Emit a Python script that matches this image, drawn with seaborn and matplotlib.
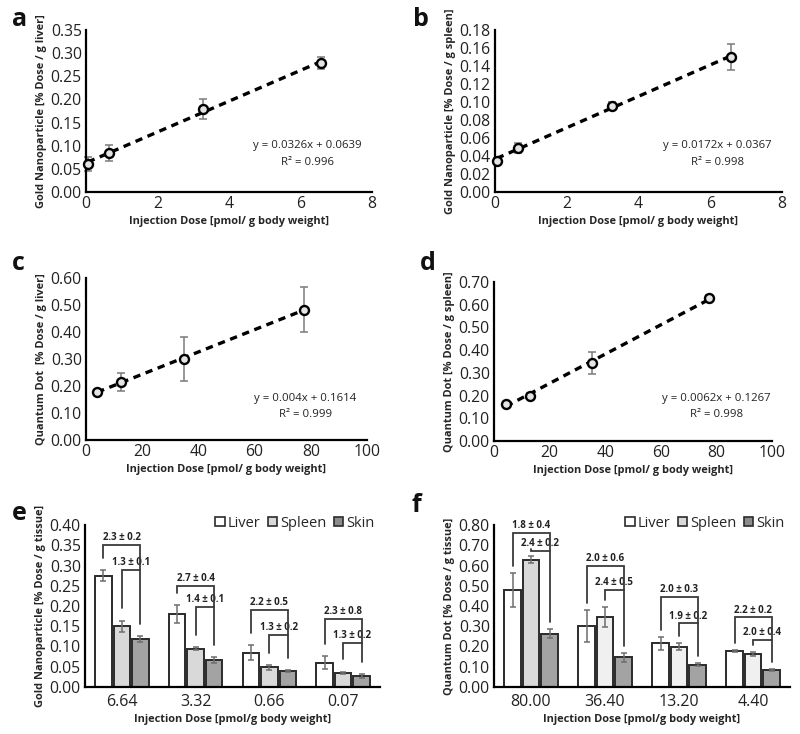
import numpy as np
import pandas as pd
import matplotlib
matplotlib.use("Agg")
import matplotlib.pyplot as plt
import seaborn as sns
from matplotlib.patches import Patch

# ---------------------------------------------------------------
# Data
# ---------------------------------------------------------------
gold_x = [0.05, 0.64, 3.27, 6.58]
gold_liver_y = [0.060, 0.085, 0.180, 0.278]
gold_liver_err = [0.015, 0.017, 0.022, 0.013]
gold_spleen_y = [0.035, 0.049, 0.096, 0.150]
gold_spleen_err = [0.003, 0.006, 0.004, 0.015]

qd_x = [4.0, 12.5, 35.0, 77.5]
qd_liver_y = [0.178, 0.215, 0.300, 0.483]
qd_liver_err = [0.004, 0.033, 0.080, 0.083]
qd_spleen_x = [4.3, 12.8, 35.3, 77.5]
qd_spleen_y = [0.163, 0.200, 0.345, 0.628]
qd_spleen_err = [0.007, 0.010, 0.048, 0.016]

tissues = ["Liver", "Spleen", "Skin"]

gold_doses = ["6.64", "3.32", "0.66", "0.07"]
gold_bars = {
    "Liver": [0.275, 0.180, 0.085, 0.060],
    "Spleen": [0.150, 0.095, 0.049, 0.035],
    "Skin": [0.118, 0.066, 0.039, 0.027],
}
gold_bar_err = {
    "Liver": [0.013, 0.022, 0.018, 0.016],
    "Spleen": [0.014, 0.004, 0.006, 0.003],
    "Skin": [0.008, 0.007, 0.003, 0.005],
}
gold_ratio_outer = ["2.3 ± 0.2", "2.7 ± 0.4", "2.2 ± 0.5", "2.3 ± 0.8"]
gold_ratio_inner = ["1.3 ± 0.1", "1.4 ± 0.1", "1.3 ± 0.2", "1.3 ± 0.2"]

qd_doses = ["80.00", "36.40", "13.20", "4.40"]
qd_bars = {
    "Liver": [0.480, 0.300, 0.215, 0.178],
    "Spleen": [0.628, 0.345, 0.200, 0.163],
    "Skin": [0.263, 0.147, 0.110, 0.083],
}
qd_bar_err = {
    "Liver": [0.083, 0.080, 0.033, 0.003],
    "Spleen": [0.018, 0.048, 0.015, 0.010],
    "Skin": [0.022, 0.022, 0.008, 0.006],
}
qd_ratio_outer = ["1.8 ± 0.4", "2.0 ± 0.6", "2.0 ± 0.3", "2.2 ± 0.2"]
qd_ratio_inner = ["2.4 ± 0.2", "2.4 ± 0.5", "1.9 ± 0.2", "2.0 ± 0.4"]

# bracket heights (annotation levels)
gold_outer_top = [0.350, 0.249, 0.190, 0.169]
gold_inner_top = [0.289, 0.198, 0.128, 0.108]
qd_outer_top = [0.760, 0.598, 0.446, 0.344]
qd_inner_top = [0.672, 0.479, 0.314, 0.232]

# ---------------------------------------------------------------
# Style
# ---------------------------------------------------------------
sns.set_theme(style="white")
plt.rcParams["font.family"] = ["Open Sans", "DejaVu Sans"]

W, H = 800, 734
fig = plt.figure(figsize=(8, 7.34), dpi=100)


def make_ax(left, top, right, bottom):
    return fig.add_axes([left / W, 1 - bottom / H, (right - left) / W, (bottom - top) / H])


def style_ax(ax, ylim, ystep, yfmt, xlabel, ylabel):
    ax.set_ylim(*ylim)
    ax.set_yticks(np.arange(ylim[0], ylim[1] + ystep / 2, ystep))
    ax.yaxis.set_major_formatter(matplotlib.ticker.FormatStrFormatter(yfmt))
    ax.tick_params(length=0, labelsize=11.3, colors="#222222", pad=3)
    for s in ["top", "right"]:
        ax.spines[s].set_visible(False)
    for s in ["left", "bottom"]:
        ax.spines[s].set_color("black")
        ax.spines[s].set_linewidth(1.6)
    ax.set_xlabel(xlabel, fontsize=7.9, fontweight="bold", labelpad=3)
    ax.set_ylabel(ylabel, fontsize=7.9, fontweight="bold", labelpad=3)
    ax.grid(False)


def scatter_panel(ax, x, y, err, xlim, xstep, ylim, ystep, ylabel, eq, r2, txt_pos):
    df = pd.DataFrame({"x": x, "y": y})
    ax.errorbar(x, y, yerr=err, fmt="none", ecolor="#7a7a7a", elinewidth=1.1,
                capsize=3, capthick=1.1, zorder=2, clip_on=False)
    sns.regplot(data=df, x="x", y="y", ax=ax, ci=None, scatter=False,
                line_kws={"color": "black", "lw": 2.4, "dashes": (2.2, 1.7), "zorder": 3})
    sns.scatterplot(data=df, x="x", y="y", ax=ax, s=42, color="#e4e4e4",
                    edgecolor="black", linewidth=1.7, zorder=4, legend=False,
                    clip_on=False)
    ax.set_xlim(*xlim)
    ax.set_xticks(np.arange(xlim[0], xlim[1] + xstep / 2, xstep))
    style_ax(ax, ylim, ystep, "%.2f", "Injection Dose [pmol/ g body weight]", ylabel)
    ax.text(txt_pos[0], txt_pos[1], eq, transform=ax.transAxes, ha="center",
            va="center", fontsize=8.2, color="#222222")
    ax.text(txt_pos[0], txt_pos[1] - 0.1, r2, transform=ax.transAxes, ha="center",
            va="center", fontsize=8.2, color="#222222")


def bar_panel(ax, doses, bars, errs, outer_top, inner_top, outer_lbl, inner_lbl,
              ylim, ystep, ylabel, gap, spleen_colors):
    df = pd.DataFrame({
        "dose": np.repeat([doses], 3, axis=0).ravel(),
        "tissue": np.repeat(tissues, len(doses)),
        "value": np.concatenate([bars[t] for t in tissues]),
    })
    sns.barplot(data=df, x="dose", y="value", hue="tissue", order=doses,
                hue_order=tissues, palette=["white", "#d9d9d9", "#a3a3a3"],
                width=0.75, gap=0.1, edgecolor="#2b2b2b", linewidth=1.4,
                errorbar=None, legend=False, ax=ax)
    centers = {}
    for t, cont in zip(tissues, ax.containers):
        xs = [b.get_x() + b.get_width() / 2 for b in cont]
        centers[t] = xs
        ax.errorbar(xs, bars[t], yerr=errs[t], fmt="none", ecolor="#6e6e6e",
                    elinewidth=1.1, capsize=2.5, capthick=1.1, zorder=5)
    for b, c in zip(ax.containers[1], spleen_colors):
        b.set_facecolor(c)

    # ratio brackets
    for i in range(len(doses)):
        xl, xs, xk = centers["Liver"][i], centers["Spleen"][i], centers["Skin"][i]
        yl = bars["Liver"][i] + errs["Liver"][i] + gap
        ys = bars["Spleen"][i] + errs["Spleen"][i] + gap
        yk = bars["Skin"][i] + errs["Skin"][i] + gap
        kw = dict(color="#3a3a3a", lw=1.3, solid_joinstyle="miter", zorder=6)
        ax.plot([xl, xl, xk, xk], [yl, outer_top[i], outer_top[i], yk], **kw)
        ax.plot([xs, xs, xk], [ys, inner_top[i], inner_top[i]], **kw)
        d = ylim[1] * 0.045
        ax.text((xl + xk) / 2, outer_top[i] + d, outer_lbl[i], ha="center",
                va="center", fontsize=7, fontweight="bold", color="#222222")
        ax.text((xs + xk) / 2, inner_top[i] + d, inner_lbl[i], ha="center",
                va="center", fontsize=7, fontweight="bold", color="#222222")

    ax.set_xlim(-0.5, len(doses) - 0.5)
    style_ax(ax, ylim, ystep, "%.2f", "Injection Dose [pmol/g body weight]", ylabel)
    ax.tick_params(axis="x", labelsize=11.5, pad=5)
    handles = [Patch(facecolor=c, edgecolor="#2b2b2b", linewidth=1.2, label=t)
               for t, c in zip(tissues, ["white", "#d9d9d9", "#8c8c8c"])]
    ax.legend(handles=handles, loc="lower right", bbox_to_anchor=(1.0, 0.93),
              ncol=3, frameon=False, fontsize=10.5, handlelength=0.65,
              handleheight=0.65, handletextpad=0.2, columnspacing=0.5,
              borderaxespad=0)


# ---------------------------------------------------------------
# Panels
# ---------------------------------------------------------------
ax_a = make_ax(86, 30, 372, 192)
scatter_panel(ax_a, gold_x, gold_liver_y, gold_liver_err, (0, 8), 2, (0, 0.35), 0.05,
              "Gold Nanoparticle [% Dose / g liver]",
              "y = 0.0326x + 0.0639", "R² = 0.996", (0.775, 0.285))

ax_b = make_ax(495, 30, 782, 192)
scatter_panel(ax_b, gold_x, gold_spleen_y, gold_spleen_err, (0, 8), 2, (0, 0.18), 0.02,
              "Gold Nanoparticle [% Dose / g spleen]",
              "y = 0.0172x + 0.0367", "R² = 0.998", (0.775, 0.285))

ax_c = make_ax(86, 278, 367, 440)
scatter_panel(ax_c, qd_x, qd_liver_y, qd_liver_err, (0, 100), 20, (0, 0.60), 0.10,
              "Quantum Dot  [% Dose / g liver]",
              "y = 0.004x + 0.1614", "R² = 0.999", (0.78, 0.255))

ax_d = make_ax(494, 282, 772, 441)
scatter_panel(ax_d, qd_spleen_x, qd_spleen_y, qd_spleen_err, (0, 100), 20, (0, 0.70), 0.10,
              "Quantum Dot [% Dose / g spleen]",
              "y = 0.0062x + 0.1267", "R² = 0.998", (0.8, 0.265))

ax_e = make_ax(85, 525, 380, 687)
bar_panel(ax_e, gold_doses, gold_bars, gold_bar_err, gold_outer_top, gold_inner_top,
          gold_ratio_outer, gold_ratio_inner, (0, 0.40), 0.05,
          "Gold Nanoparticle [% Dose / g tissue]", 0.03, ["#d9d9d9"] * 4)

ax_f = make_ax(494, 525, 790, 687)
bar_panel(ax_f, qd_doses, qd_bars, qd_bar_err, qd_outer_top, qd_inner_top,
          qd_ratio_outer, qd_ratio_inner, (0, 0.80), 0.10,
          "Quantum Dot [% Dose / g tissue]", 0.035,
          ["#d9d9d9", "#f0f0f0", "#f0f0f0", "#f0f0f0"])

for lbl, (px, py) in zip("abcdef", [(12, 20), (413, 20), (12, 264), (420, 264),
                                    (12, 513), (412, 505)]):
    fig.text(px / W, 1 - py / H, lbl, fontsize=18, fontweight="bold",
             ha="left", va="center", color="#111111")

fig.savefig("out.png", dpi=100)
